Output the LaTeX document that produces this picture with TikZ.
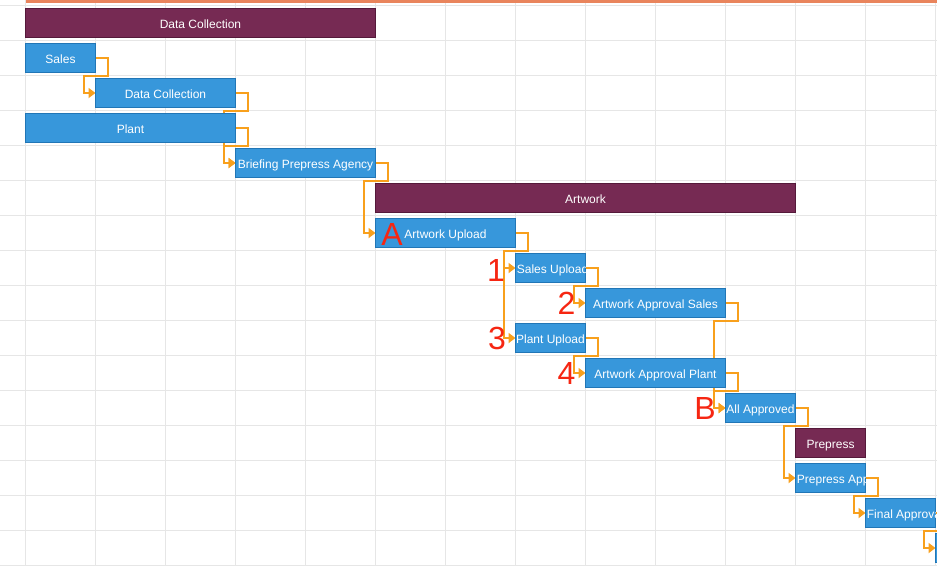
\documentclass[tikz,border=0pt]{standalone}
\usepackage{fontspec}
\setmainfont{Liberation Sans}
\usetikzlibrary{arrows.meta,calc}
\definecolor{taskfill}{RGB}{55,151,219}
\definecolor{taskline}{RGB}{33,118,182}
\definecolor{sumfill}{RGB}{118,42,83}
\definecolor{sumline}{RGB}{85,25,58}
\definecolor{linkc}{RGB}{248,160,28}
\definecolor{gridc}{RGB}{230,230,230}
\definecolor{topbar}{RGB}{233,132,92}
\definecolor{markerc}{RGB}{246,38,18}
\pgfdeclarelayer{gridlayer}
\pgfdeclarelayer{linklayer}
\pgfsetlayers{gridlayer,linklayer,main}
\tikzset{
  bartext/.style={text=white, font=\fontsize{12}{14}\selectfont, text height=10.5pt, text depth=0.5pt, inner sep=0pt},
  bar/.style={bartext, rectangle, draw, line width=0.8pt, minimum height=29pt, outer sep=0pt},
  task/.style={bar, fill=taskfill, draw=taskline},
  summ/.style={bar, fill=sumfill, draw=sumline},
  deplink/.style={draw=linkc, line width=2pt, -{Triangle[length=7pt,width=10pt]}, fill=none},
  redmark/.style={text=markerc, font=\fontsize{32}{36}\selectfont, inner sep=0pt}
}
\newcommand\linkto[2]{%
  \begin{pgfonlayer}{linklayer}
  \path ([yshift=-3pt]#1.south east) coordinate (tmpb);
  \draw[deplink] (#1.east) -- ++(12pt,0) |- ($(tmpb -| #2.west)+(-12pt,0)$) |- (#2.west);
  \end{pgfonlayer}}
\newcommand\clippedtext[2]{%
  \begin{scope}
  \clip (#1.south west) rectangle (#1.north east);
  \node[bartext, anchor=west] at ([xshift=1.2pt]#1.west) {#2};
  \end{scope}}
\begin{document}
\begin{tikzpicture}[x=1pt,y=-1pt]
\useasboundingbox (0,0) rectangle (937,566);
\begin{pgfonlayer}{gridlayer}
  \foreach \i in {0,...,13} \draw[gridc, line width=1.2pt] (25.5+70*\i,0) -- (25.5+70*\i,566);
  \foreach \j in {0,...,16} \draw[gridc, line width=1.2pt] (0,5.5+35*\j) -- (937,5.5+35*\j);
  \fill[topbar] (25.5,0) rectangle (937,2.6);
\end{pgfonlayer}

\node[summ, minimum width=350pt] (s0) at (200.5,23) {Data Collection};
\node[task, minimum width=70pt]  (sales) at (60.5,58) {Sales};
\node[task, minimum width=140pt] (dc) at (165.5,93) {Data Collection};
\node[task, minimum width=210pt] (plant) at (130.5,128) {Plant};
\node[task, minimum width=140pt] (brief) at (305.5,163) {Briefing Prepress Agency};
\node[summ, minimum width=420pt] (s1) at (585.5,198) {Artwork};
\node[task, minimum width=140pt] (au) at (445.5,233) {Artwork Upload};
\node[task, minimum width=70pt]  (su) at (550.5,268) {};
\clippedtext{su}{Sales Upload}
\node[task, minimum width=140pt] (aas) at (655.5,303) {Artwork Approval Sales};
\node[task, minimum width=70pt]  (pu) at (550.5,338) {Plant Upload};
\node[task, minimum width=140pt] (aap) at (655.5,373) {Artwork Approval Plant};
\node[task, minimum width=70pt]  (allap) at (760.5,408) {All Approved};
\node[summ, minimum width=70pt]  (s2) at (830.5,443) {Prepress};
\node[task, minimum width=70pt]  (ppa) at (830.5,478) {};
\clippedtext{ppa}{Prepress Approval}
\node[task, minimum width=70pt]  (fa) at (900.5,513) {};
\clippedtext{fa}{Final Approval}
\node[task, minimum width=70pt]  (nx) at (970.5,548) {};

\linkto{sales}{dc}
\linkto{dc}{brief}
\linkto{plant}{brief}
\linkto{brief}{au}
\linkto{au}{su}
\linkto{au}{pu}
\linkto{su}{aas}
\linkto{pu}{aap}
\linkto{aas}{allap}
\linkto{aap}{allap}
\linkto{allap}{ppa}
\linkto{ppa}{fa}
\linkto{fa}{nx}

\node[redmark] (ma) at (392,234) {A};
\node[redmark] (m1) at (496,270) {1};
\node[redmark] (m2) at (566.5,303) {2};
\node[redmark] (m3) at (497,338) {3};
\node[redmark] (m4) at (566.5,373) {4};
\node[redmark] (mb) at (705,408) {B};
\end{tikzpicture}
\end{document}
